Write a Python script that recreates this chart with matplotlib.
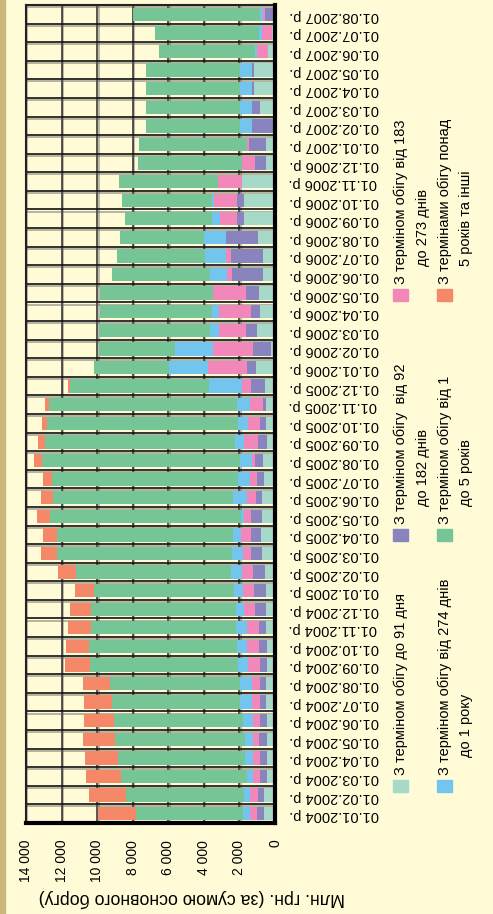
import numpy as np
import pandas as pd
import matplotlib
matplotlib.use("Agg")
import matplotlib.pyplot as plt
import matplotlib.patheffects as pe
from matplotlib.patches import Rectangle
from matplotlib.ticker import FuncFormatter

plt.rcParams['font.family'] = ['Liberation Sans', 'DejaVu Sans']

# місячні дати 01.01.2004 ... 01.08.2007
dates = pd.date_range("2004-01-01", "2007-08-01", freq="MS")
date_labels = [d.strftime("%d.%m.%Y") + " р." for d in dates]

# млн грн, по строках обігу (порядок накопичення від нуля)
till91 = [620, 620, 450, 450, 450, 450, 505, 505, 450, 450, 505, 505,
          505, 560, 730, 785, 730, 730, 620, 675, 450, 505, 505, 560,
          1070, 225, 1010, 845, 900, 675, 675, 955, 1745, 1745, 1855, 505,
          505, 0, 845, 1180, 1180, 395, 150, 0]
d92_182 = [395, 335, 395, 395, 450, 395, 335, 335, 395, 450, 395, 620,
           675, 675, 620, 560, 620, 335, 395, 450, 505, 335, 170, 785,
           505, 1010, 620, 505, 730, 1745, 1800, 1800, 395, 395, 0, 620,
           955, 1295, 450, 110, 110, 0, 0, 560]
d183_273 = [395, 450, 395, 395, 335, 395, 450, 450, 675, 675, 675, 620,
            620, 620, 450, 560, 395, 505, 395, 170, 785, 675, 730, 505,
            2195, 2250, 1520, 1800, 1855, 280, 280, 0, 955, 1295, 1350, 730,
            110, 0, 0, 0, 0, 620, 600, 95]
d274_1y = [395, 335, 335, 450, 450, 560, 675, 675, 560, 560, 620, 450,
           505, 620, 620, 450, 170, 785, 675, 675, 505, 560, 730, 1855,
           2195, 2135, 505, 395, 0, 955, 1180, 1235, 450, 110, 0, 0,
           0, 675, 675, 675, 675, 110, 150, 190]
d1_5y = [6015, 6635, 7085, 7140, 7310, 7250, 7195, 7310, 8320, 8320, 8150, 8150,
         7870, 8715, 9840, 9895, 10740, 10120, 10455, 11130, 10680, 10740, 10570, 7815,
         4215, 4275, 6240, 6300, 6355, 5510, 4950, 4720, 4890, 5060, 5565, 5850,
         6070, 5285, 5285, 5285, 5285, 5400, 5850, 7120]
over5y = [2135, 2080, 1970, 1855, 1800, 1685, 1575, 1520, 1405, 1295, 1295, 1180,
          1070, 1010, 900, 785, 730, 675, 505, 450, 395, 280, 225, 110,
          0, 0, 0, 0, 0, 0, 0, 0, 0, 0, 0, 0,
          0, 0, 0, 0, 0, 0, 0, 0]

series = [
    (till91, "#A6D9C8", ["З терміном обігу до 91 дня"]),
    (d92_182, "#8A84BE", ["З терміном обігу  від 92", "до 182 днів"]),
    (d183_273, "#F188B9", ["З терміном обігу від 183", "до 273 днів"]),
    (d274_1y, "#72C5EF", ["З терміном обігу від 274 днів", "до 1 року"]),
    (d1_5y, "#76C596", ["З терміном обігу від 1", "до 5 років"]),
    (over5y, "#F58868", ["З термінами обігу понад", "5 років та інші"]),
]

BG = "#FFFBD7"
W, H = 493, 914
fig = plt.figure(figsize=(W / 100, H / 100), dpi=100, facecolor=BG)
fig.patches.append(Rectangle((0, 0), 5 / W, 1, transform=fig.transFigure,
                             color="#C9B877", zorder=0))
ax = fig.add_axes([26 / W, 1 - 823 / H, 249 / W, 818 / H], facecolor=BG)

y = np.arange(len(dates))
left = np.zeros(len(dates))
for vals, col, _ in series:
    v = np.array(vals, float)
    ax.barh(y, v, left=left, height=0.72, color=col, zorder=3)
    left += v

ax.set_xlim(14000, 0)
ax.set_ylim(-0.5, len(dates) - 0.5)
ax.set_xticks(np.arange(0, 14001, 2000))
ax.xaxis.set_major_formatter(FuncFormatter(lambda v, p: f"{int(v):,}".replace(",", " ")))
ax.tick_params(axis="x", length=0, pad=12, labelsize=10, labelrotation=90)
ax.set_yticks(y)
ax.set_yticklabels(date_labels, rotation=180)
ax.yaxis.tick_right()
ax.tick_params(axis="y", length=0, pad=10, labelsize=10.5)
ax.set_yticks(np.arange(len(dates) + 1) - 0.5, minor=True)
ax.tick_params(axis="y", which="minor", length=0)

# сітка з легкою тінню, як у вихідному малюнку
shadow = [pe.SimpleLineShadow(offset=(1, -1.5), shadow_color="#555", alpha=0.5), pe.Normal()]
ax.grid(axis="x", which="major", color="#2a2a2a", lw=1.1, zorder=1)
ax.grid(axis="y", which="minor", color="#111", lw=1.2, zorder=1)
ax.set_axisbelow(True)
for g in ax.get_xgridlines():
    g.set_path_effects(shadow)
for tk in ax.yaxis.get_minor_ticks():
    tk.gridline.set_path_effects(shadow)

for s in ["left", "top"]:
    ax.spines[s].set_linewidth(1.5)
    ax.spines[s].set_color("#222")
for s in ["right", "bottom"]:
    ax.spines[s].set_linewidth(3)
    ax.spines[s].set_color("black")
ax.spines["right"].set_zorder(5)

fig.text(192 / W, 1 - 898 / H, "Млн. грн. (за сумою основного боргу)",
         rotation=180, ha="center", va="center", fontsize=12.8)

# легенда (повернута): 2 ряди по 3 позиції
key_x = [400.5, 444.5]
key_y = [786, 535, 295]
line2_x = [422.5, 466]
for i, (_, col, lines) in enumerate(series):
    col_i, row_i = i % 3, i // 3
    kx, ky = key_x[row_i], key_y[col_i]
    fig.patches.append(Rectangle(((kx - 7.5) / W, 1 - (ky + 6) / H), 15 / W, 12 / H,
                                 transform=fig.transFigure, color=col))
    fig.text(kx / W, 1 - (ky - 11) / H, lines[0], rotation=90, rotation_mode="anchor",
             ha="left", va="center", fontsize=10.5)
    if len(lines) > 1:
        fig.text(line2_x[row_i] / W, 1 - (ky - 29) / H, lines[1], rotation=90,
                 rotation_mode="anchor", ha="left", va="center", fontsize=10.5)

fig.savefig("out.png", dpi=100, facecolor=BG)
